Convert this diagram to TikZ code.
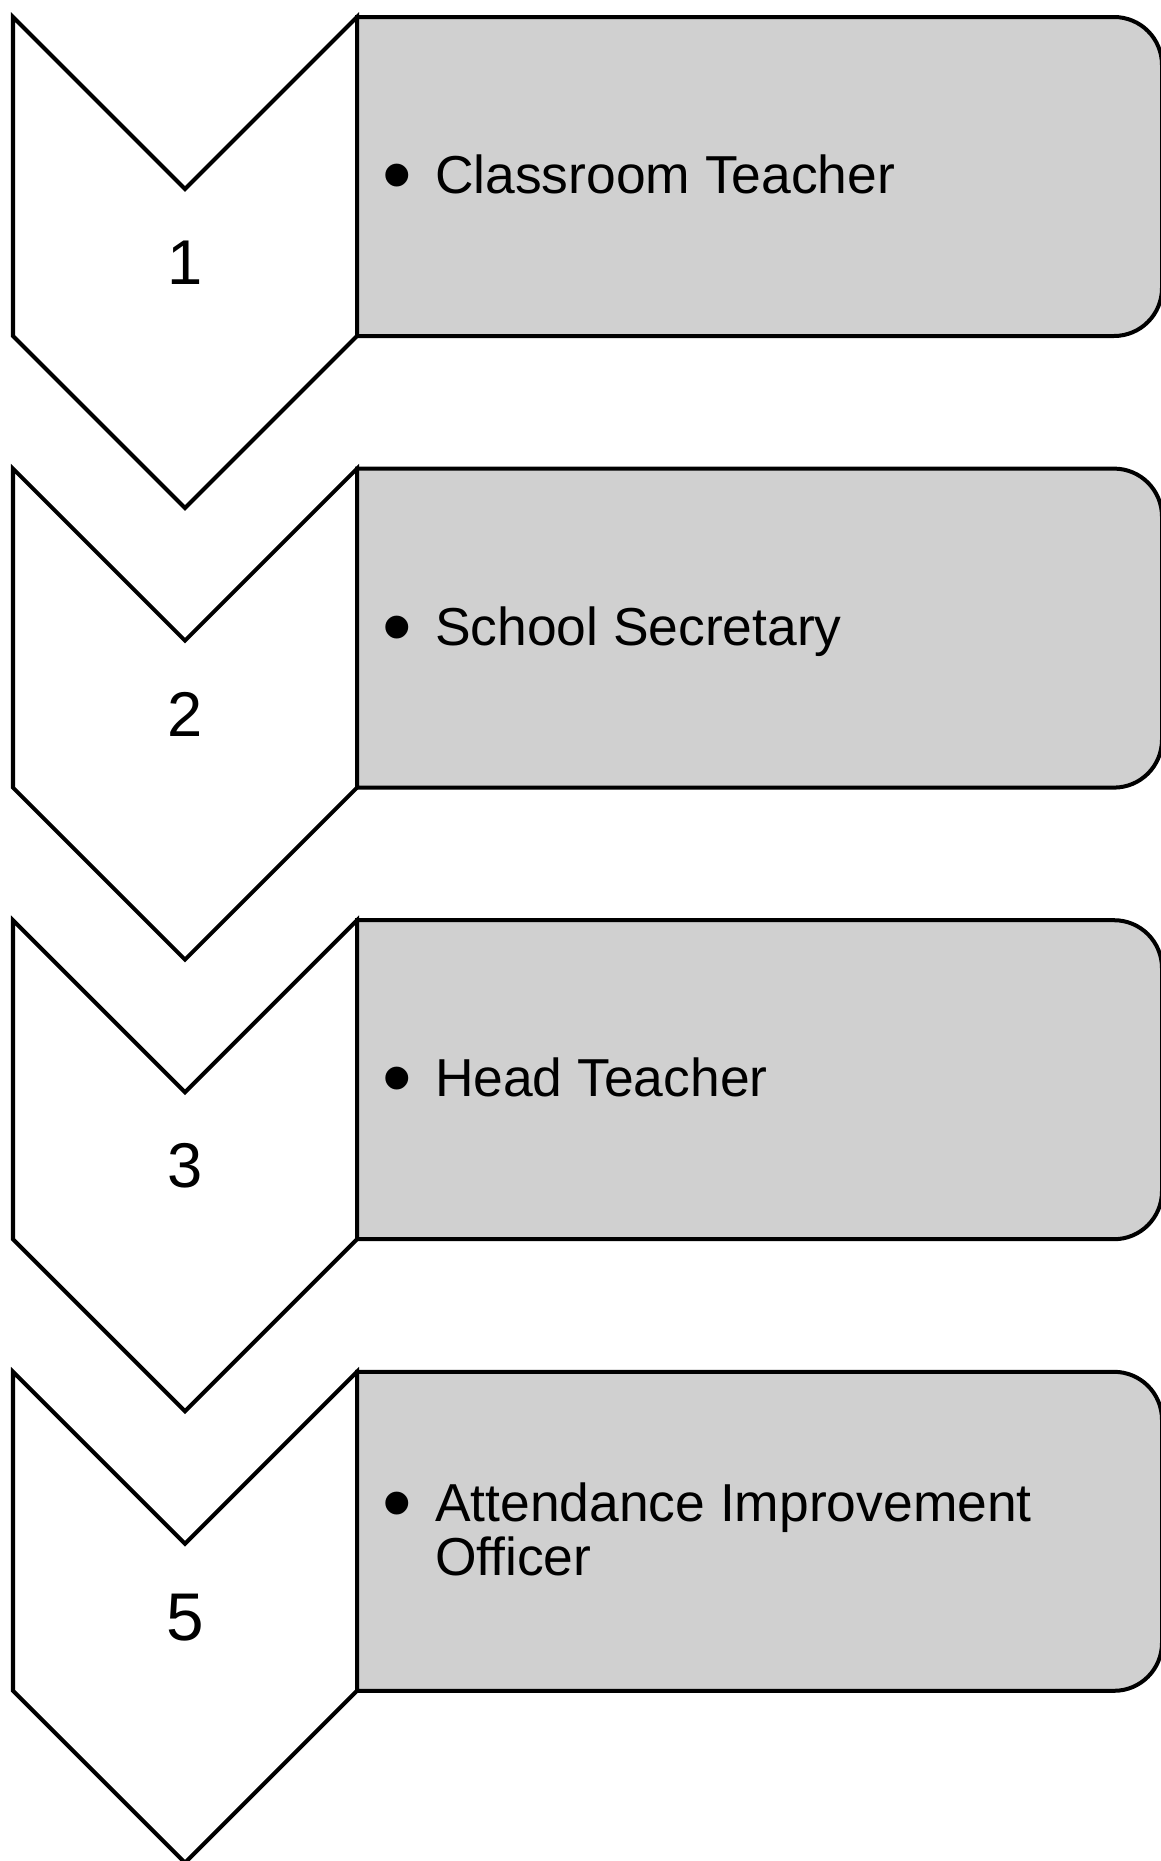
\documentclass[tikz,border=0pt]{standalone}
\usepackage{fontspec}
\setmainfont{Liberation Sans}
\usetikzlibrary{calc}
\definecolor{boxgray}{HTML}{D0D0D0}

\begin{document}
\begin{tikzpicture}[line width=0.1cm, line join=miter]
            \useasboundingbox (0,0) rectangle (29,-46.525);

            \coordinate (A) at (0.325,-0.425);
            \coordinate (B) at ($(A) + (0,-11.29) $);
            \coordinate (C) at ($(B) + (0,-11.29) $);
            \coordinate (D) at ($(C) + (0,-11.29) $);

            \foreach \n in {A, B, C, D}
                {
                    \draw [fill=white] (\n) -- ($(\n) + (4.3,-4.3)$) -- ($(\n) + (8.6,0)$)
                        -- ($(\n) + (8.6,-7.975)$) -- ($(\n) + (4.3,-12.275)$)
                        -- ($(\n) + (0,-7.975)$) -- cycle;
                    \draw [fill=boxgray] ($(\n) + (8.6,0)$) -- ($(\n) + (27.525,0)$)
                        arc (90:0:1.2) -- ($(\n) + (28.725,-6.775)$)
                        arc (0:-90:1.2) -- ($(\n) + (8.6,-7.975)$) -- cycle;
                }

                \node at ($(A) + (4.3,-6.14)$) {\fontsize{45}{54}\selectfont 1};
                \node at ($(B) + (4.3,-6.14)$) {\fontsize{45}{54}\selectfont 2};
                \node at ($(C) + (4.3,-6.14)$) {\fontsize{45}{54}\selectfont 3};
                \node at ($(D) + (4.3,-6.14)$) {\fontsize{48}{58}\selectfont 5};

                \node [inner sep=0] at ($(A) + (9.6,-4.17)$) {\fontsize{60}{72}\selectfont\textbullet};
                \node [inner sep=0] at ($(B) + (9.6,-4.17)$) {\fontsize{60}{72}\selectfont\textbullet};
                \node [inner sep=0] at ($(C) + (9.6,-4.17)$) {\fontsize{60}{72}\selectfont\textbullet};
                \node [inner sep=0] at ($(D) + (9.6,-3.49)$) {\fontsize{60}{72}\selectfont\textbullet};

                \node [anchor=base west, inner sep=0] at ($(A) + (10.5,-4.41)$) {\fontsize{38}{45}\selectfont Classroom Teacher};
                \node [anchor=base west, inner sep=0] at ($(B) + (10.5,-4.41)$) {\fontsize{38}{45}\selectfont School Secretary};
                \node [anchor=base west, inner sep=0] at ($(C) + (10.5,-4.41)$) {\fontsize{38}{45}\selectfont Head Teacher};
                \node [anchor=base west, inner sep=0] at ($(D) + (10.5,-3.73)$) {\fontsize{38}{45}\selectfont Attendance Improvement};
                \node [anchor=base west, inner sep=0] at ($(D) + (10.5,-5.08)$) {\fontsize{38}{45}\selectfont Officer};

        \end{tikzpicture}
\end{document}
